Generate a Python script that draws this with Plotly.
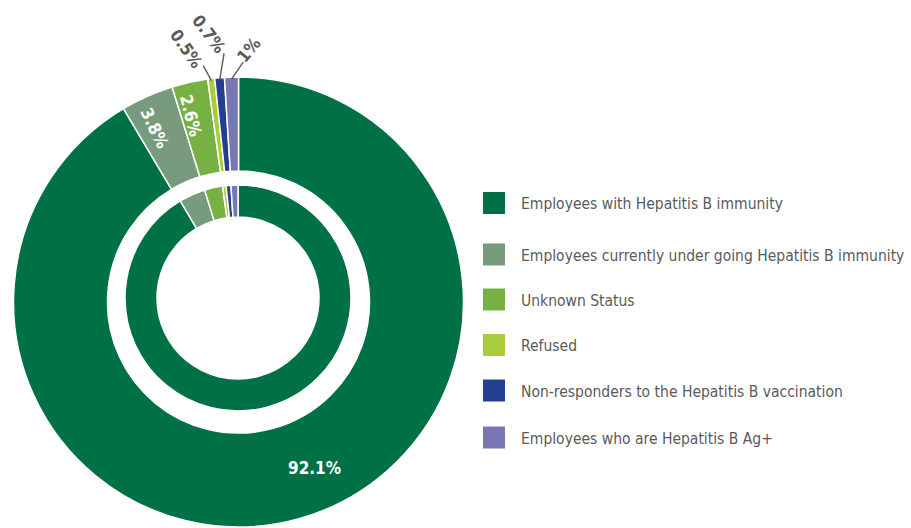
import math
import plotly.graph_objects as go

# ---------------- data ----------------
categories = [
    "Employees with Hepatitis B immunity",
    "Employees currently under going Hepatitis B immunity",
    "Unknown Status",
    "Refused",
    "Non-responders to the Hepatitis B vaccination",
    "Employees who are Hepatitis B Ag+",
]
outer_values = [92.1, 3.8, 2.6, 0.5, 0.7, 1.0]
inner_values = [92.1, 3.8, 2.6, 0.5, 0.7, 1.0]
value_labels = ["92.1%", "3.8%", "2.6%", "0.5%", "0.7%", "1%"]

# ---------------- style / layout ----------------
colors = ["#007146", "#789a7d", "#77b043", "#a9cd3a", "#243f8f", "#7877b3"]
W, H = 911, 528
FONT = "DejaVu Sans Condensed, Liberation Sans Narrow, sans-serif"
GREY = "#5a5a5a"

# outer ring geometry (pixels)
ocx, ocy, orad, ohole = 238.5, 302, 225, 131
# inner ring geometry (pixels)
icx, icy, irad, ihole = 238, 298, 113, 81

# inside labels -> (fraction along slice, radius)
inside_place = {0: (0.472, 183), 1: (0.36, 193), 2: (0.3, 193)}
# outside labels -> (line end angle offset, line end radius, text angle offset, text radius, text rotation)
outside_place = {
    3: (-1.5, 239, -4.8, 259, 55),
    4: (1.5, 249, -1.4, 270, 53),
    5: (2.9, 240, 4.1, 252, -50),
}
legend_rows = [203, 254.5, 299.5, 345, 390.5, 437.5]


def px_to_paper(x, y):
    return x / W, 1 - y / H


def domain(cx, cy, r):
    return dict(x=[(cx - r) / W, (cx + r) / W], y=[(H - cy - r) / H, (H - cy + r) / H])


fig = go.Figure()
fig.add_trace(go.Pie(
    values=outer_values, labels=categories, sort=False, direction="clockwise",
    rotation=0, hole=ohole / orad, domain=domain(ocx, ocy, orad),
    marker=dict(colors=colors, line=dict(color="white", width=1.5)),
    textinfo="none", hoverinfo="label+value", showlegend=False,
))
fig.add_trace(go.Pie(
    values=inner_values, labels=categories, sort=False, direction="clockwise",
    rotation=0, hole=ihole / irad, domain=domain(icx, icy, irad),
    marker=dict(colors=colors, line=dict(color="white", width=1.5)),
    textinfo="none", hoverinfo="label+value", showlegend=False,
))

total = sum(outer_values)
starts = []
acc = 0.0
for v in outer_values:
    starts.append(acc / total * 360)
    acc += v
spans = [v / total * 360 for v in outer_values]


def polar(cx, cy, r, ang):
    a = math.radians(ang)
    return cx + r * math.sin(a), cy - r * math.cos(a)


annotations = []
shapes = []
for i, lab in enumerate(value_labels):
    mid = starts[i] + spans[i] / 2
    if i in inside_place:
        frac, r = inside_place[i]
        ang = starts[i] + spans[i] * frac
        x, y = polar(ocx, ocy, r, ang)
        if i == 0:
            rot = 0
        else:
            a = math.radians(ang)
            rot = math.degrees(math.atan2(math.cos(a), -math.sin(a)))
        px, py = px_to_paper(x, y)
        annotations.append(dict(x=px, y=py, xref="paper", yref="paper", text=lab,
                                showarrow=False, textangle=rot,
                                xanchor="center", yanchor="middle",
                                font=dict(family=FONT, size=17, color="white", weight="bold")))
    else:
        dl, rl, dt, rt, rot = outside_place[i]
        x0, y0 = polar(ocx, ocy, orad - 2, mid)
        x1, y1 = polar(ocx, ocy, rl, mid + dl)
        p0 = px_to_paper(x0, y0)
        p1 = px_to_paper(x1, y1)
        shapes.append(dict(type="line", xref="paper", yref="paper",
                           x0=p0[0], y0=p0[1], x1=p1[0], y1=p1[1],
                           line=dict(color=GREY, width=1.4)))
        tx, ty = polar(ocx, ocy, rt, mid + dt)
        px, py = px_to_paper(tx, ty)
        annotations.append(dict(x=px, y=py, xref="paper", yref="paper", text=lab,
                                showarrow=False, textangle=rot,
                                xanchor="center", yanchor="middle",
                                font=dict(family=FONT, size=17, color=GREY, weight="bold")))

# legend (squares + text)
for i, (cat, col) in enumerate(zip(categories, colors)):
    yc = legend_rows[i]
    a0 = px_to_paper(483, yc - 11)
    a1 = px_to_paper(505, yc + 11)
    shapes.append(dict(type="rect", xref="paper", yref="paper",
                       x0=a0[0], y0=a0[1], x1=a1[0], y1=a1[1],
                       fillcolor=col, line=dict(width=0)))
    tx, ty = px_to_paper(519, yc + 1)
    annotations.append(dict(x=tx, y=ty, xref="paper", yref="paper", text=cat,
                            showarrow=False, xanchor="left", yanchor="middle",
                            font=dict(family=FONT, size=15.5, color=GREY)))

fig.update_layout(
    width=W, height=H, autosize=False,
    margin=dict(l=0, r=0, t=0, b=0),
    paper_bgcolor="white", plot_bgcolor="white",
    annotations=annotations, shapes=shapes,
    showlegend=False,
)
fig.write_html("out.html")
